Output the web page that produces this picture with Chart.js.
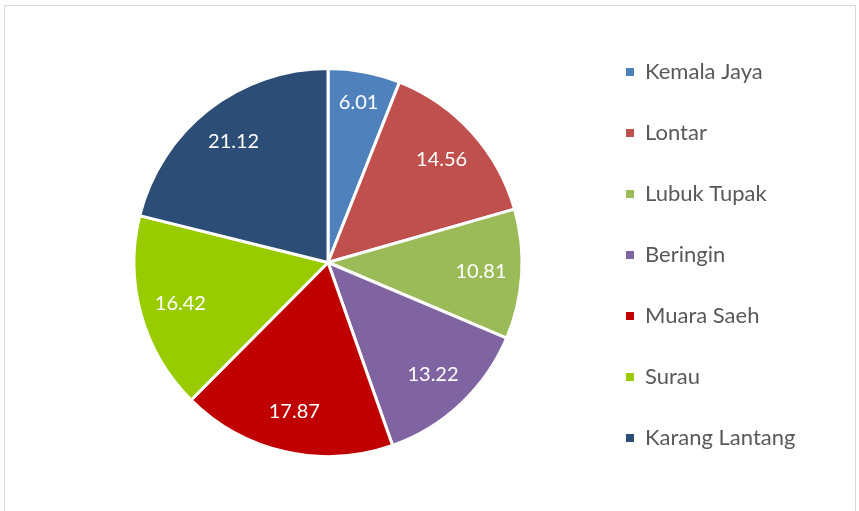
<!DOCTYPE html>
<html>
<head>
<meta charset="utf-8">
<script src="https://cdn.jsdelivr.net/npm/chart.js@4"></script>
<style>
    html, body { margin: 0; padding: 0; background: #ffffff; }
    #wrap { position: relative; width: 859px; height: 511px; }
    #frame {
        position: absolute; left: 4px; top: 5px; width: 850px; height: 520px;
        border: 1px solid #d9d9d9; pointer-events: none;
    }
    canvas { position: absolute; left: 0; top: 0; }
</style>
</head>
<body>
<div id="wrap">
    <canvas id="pieChart" width="859" height="511"></canvas>
    <div id="frame"></div>
</div>
<script>
const villages = ['Kemala Jaya', 'Lontar', 'Lubuk Tupak', 'Beringin', 'Muara Saeh', 'Surau', 'Karang Lantang'];
const shares = [6.01, 14.56, 10.81, 13.22, 17.87, 16.42, 21.12];
const sliceColors = ['#4F81BD', '#C0504D', '#9BBB59', '#8064A2', '#C00000', '#99CC00', '#2C4D75'];

const fontFamily = 'Lato, "Open Sans", sans-serif';
const legendFontSize = 22;
const legendPadding = 39;
const legendBox = 8;

// white value labels inside each slice
const sliceLabels = {
    id: 'sliceLabels',
    afterDatasetsDraw(chart) {
        const ctx = chart.ctx;
        const meta = chart.getDatasetMeta(0);
        ctx.save();
        ctx.fillStyle = '#ffffff';
        ctx.font = '20px ' + fontFamily;
        ctx.textAlign = 'center';
        ctx.textBaseline = 'middle';
        meta.data.forEach((arc, i) => {
            const p = arc.getProps(['x', 'y', 'startAngle', 'endAngle', 'outerRadius'], true);
            const mid = (p.startAngle + p.endAngle) / 2;
            const r = p.outerRadius * (i === 0 ? 0.84 : 0.79);
            ctx.fillText(shares[i].toFixed(2), p.x + Math.cos(mid) * r, p.y + Math.sin(mid) * r);
        });
        ctx.restore();
    }
};

const ctx = document.getElementById('pieChart').getContext('2d');

// work out how wide the legend will be so it starts where the reference has it
ctx.font = legendFontSize + 'px ' + fontFamily;
const widest = Math.max(...villages.map(v => ctx.measureText(v).width));
const legendWidth = legendPadding + legendBox + legendFontSize / 2 + widest + 10;
const legendLeft = 626 - legendPadding;
const padRight = 859 - legendLeft - legendWidth;

new Chart(ctx, {
    type: 'pie',
    data: {
        labels: villages,
        datasets: [{
            data: shares,
            backgroundColor: sliceColors,
            borderColor: '#ffffff',
            borderWidth: 3,
            radius: 194
        }]
    },
    options: {
        responsive: false,
        animation: false,
        layout: {
            padding: { top: 22, bottom: 8, left: 69, right: padRight }
        },
        plugins: {
            legend: {
                position: 'right',
                align: 'start',
                labels: {
                    boxWidth: legendBox,
                    boxHeight: legendBox,
                    padding: legendPadding,
                    color: '#595959',
                    font: { family: fontFamily, size: legendFontSize },
                    generateLabels(chart) {
                        return villages.map((name, i) => ({
                            text: name,
                            fillStyle: sliceColors[i],
                            strokeStyle: sliceColors[i],
                            lineWidth: 0,
                            fontColor: '#595959',
                            hidden: false,
                            index: i
                        }));
                    }
                }
            },
            tooltip: { enabled: false }
        }
    },
    plugins: [sliceLabels]
});
</script>
</body>
</html>
